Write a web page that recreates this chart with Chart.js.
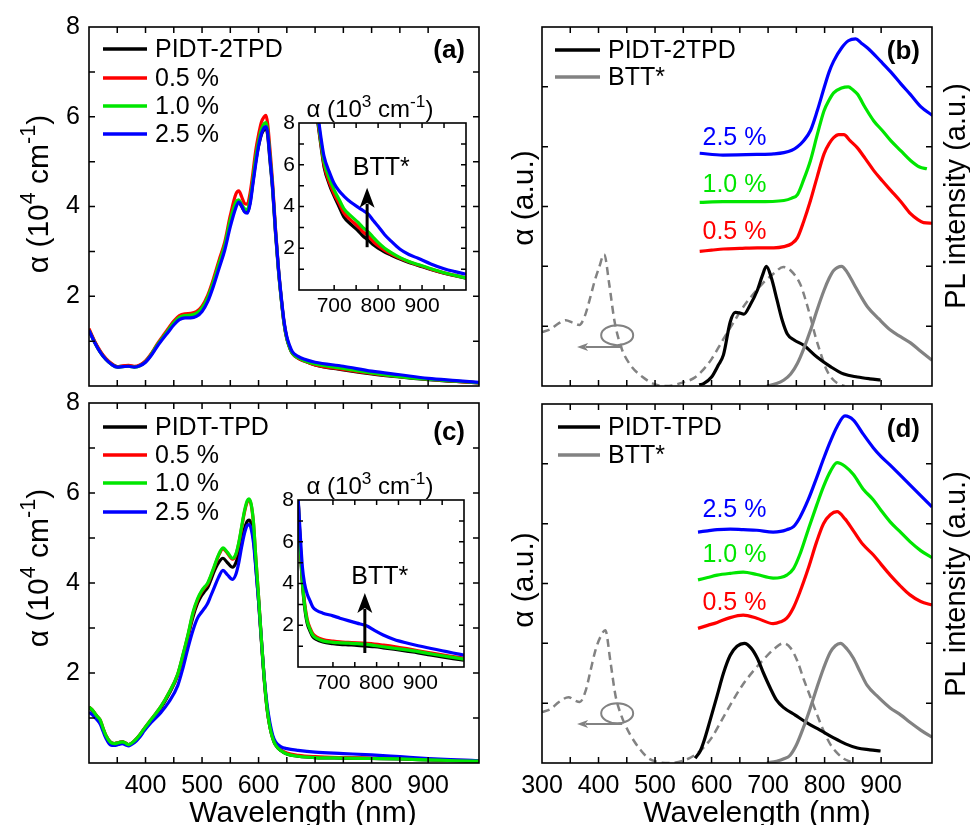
<!DOCTYPE html>
<html>
<head>
<meta charset="utf-8">
<script src="https://cdn.jsdelivr.net/npm/chart.js@4"></script>
<style>
  body { margin: 0; background: #fff; }
  #wrap { position: relative; width: 970px; height: 825px; overflow: hidden; }
  canvas { position: absolute; }
</style>
</head>
<body>
<div id="wrap">
  <canvas id="pa" width="490" height="395" style="left:0;top:0"></canvas>
  <canvas id="pb" width="480" height="395" style="left:490px;top:0"></canvas>
  <canvas id="pc" width="490" height="450" style="left:0;top:375px"></canvas>
  <canvas id="pd" width="480" height="450" style="left:490px;top:375px"></canvas>
  <canvas id="ia" width="210" height="235" style="left:262px;top:88px"></canvas>
  <canvas id="ic" width="210" height="235" style="left:261px;top:465px"></canvas>
</div>
<script>
// ---- data ----
// (a) absorption PIDT-2TPD blends, 10^4 cm^-1
const aWl = [300,310,320,330,340,350,360,370,380,390,400,410,420,430,440,450,460,470,480,490,500,510,520,530,540,550,560,565,570,575,580,585,590,595,600,605,610,613,616,620,625,630,635,640,645,650,655,660,670,680,700,750,800,850,900,950,990];
const aBlack = [1.25,0.98,0.76,0.60,0.49,0.43,0.44,0.45,0.43,0.46,0.55,0.70,0.90,1.07,1.24,1.40,1.51,1.55,1.56,1.60,1.72,1.95,2.30,2.70,3.10,3.65,4.05,4.10,4.00,3.90,3.88,4.10,4.55,5.00,5.35,5.60,5.72,5.75,5.60,5.05,4.35,3.40,2.60,1.95,1.40,1.05,0.85,0.72,0.62,0.56,0.47,0.36,0.27,0.20,0.14,0.10,0.07];
const aRed = [1.28,1.00,0.78,0.61,0.50,0.43,0.45,0.46,0.44,0.47,0.56,0.72,0.92,1.10,1.28,1.45,1.57,1.61,1.62,1.66,1.78,2.02,2.38,2.80,3.20,3.80,4.28,4.35,4.22,4.07,4.05,4.30,4.75,5.25,5.60,5.88,6.00,6.03,5.85,5.30,4.50,3.50,2.65,1.98,1.42,1.07,0.86,0.73,0.62,0.56,0.47,0.37,0.28,0.21,0.15,0.10,0.07];
const aGreen = [1.24,0.97,0.75,0.59,0.48,0.42,0.43,0.44,0.42,0.45,0.54,0.70,0.90,1.07,1.24,1.41,1.53,1.57,1.58,1.62,1.74,1.97,2.32,2.73,3.13,3.70,4.10,4.15,4.05,3.95,3.93,4.15,4.60,5.10,5.45,5.72,5.85,5.87,5.70,5.15,4.40,3.45,2.62,1.96,1.41,1.06,0.86,0.73,0.63,0.57,0.49,0.39,0.29,0.21,0.15,0.11,0.07];
const aBlue = [1.24,0.97,0.75,0.59,0.48,0.42,0.43,0.44,0.42,0.45,0.53,0.68,0.87,1.04,1.20,1.36,1.48,1.52,1.52,1.55,1.66,1.88,2.22,2.62,3.02,3.55,3.98,4.10,4.02,3.88,3.85,4.05,4.50,4.95,5.35,5.62,5.76,5.78,5.65,5.10,4.40,3.45,2.65,2.00,1.45,1.10,0.90,0.76,0.66,0.60,0.53,0.44,0.33,0.25,0.17,0.12,0.08];

// (a) inset, 10^3 cm^-1
const iaWl = [655,663,670,677,690,700,711,722,738,754,765,777,790,800,815,829,850,870,891,920,950,975,1000];
const iaBlack = [9.4,8.0,6.9,5.9,5.0,4.5,4.0,3.5,3.15,2.85,2.6,2.4,2.15,2.0,1.82,1.68,1.48,1.32,1.18,0.98,0.8,0.68,0.56];
const iaRed = [9.5,8.1,7.0,6.0,5.1,4.6,4.15,3.7,3.35,3.05,2.8,2.6,2.3,2.12,1.9,1.73,1.52,1.35,1.2,1.0,0.82,0.7,0.58];
const iaGreen = [9.6,8.2,7.1,6.15,5.3,4.8,4.35,3.9,3.55,3.25,3.0,2.8,2.5,2.28,2.0,1.8,1.55,1.37,1.22,1.02,0.83,0.7,0.58];
const iaBlue = [9.8,8.4,7.3,6.4,5.6,5.1,4.75,4.5,4.2,3.97,3.82,3.65,3.3,3.05,2.65,2.35,1.95,1.7,1.52,1.25,1.02,0.88,0.76];

// (c) absorption PIDT-TPD blends
const cWl = [300,305,310,315,320,325,330,338,345,352,359,365,370,380,390,398,410,427,441,457,466,475,484,492,499,505,510,515,521,529,537,545,554,560,565,570,575,580,583,587,591,595,600,605,610,615,620,625,630,640,650,670,700,750,800,850,900,950,990];
const cBlack = [1.24,1.18,1.10,1.02,0.92,0.75,0.60,0.46,0.43,0.45,0.47,0.44,0.41,0.48,0.62,0.76,0.95,1.22,1.52,1.95,2.35,2.80,3.25,3.55,3.72,3.82,3.90,4.05,4.25,4.45,4.55,4.45,4.35,4.45,4.65,4.95,5.20,5.37,5.40,5.32,5.00,4.40,3.60,2.70,1.85,1.20,0.80,0.55,0.40,0.27,0.20,0.15,0.12,0.11,0.10,0.09,0.07,0.05,0.04];
const cRed = [1.24,1.19,1.11,1.03,0.95,0.77,0.61,0.46,0.43,0.45,0.47,0.44,0.41,0.49,0.63,0.77,0.97,1.25,1.55,1.97,2.38,2.83,3.32,3.62,3.80,3.90,3.98,4.13,4.33,4.60,4.76,4.66,4.53,4.63,4.88,5.22,5.57,5.80,5.85,5.73,5.33,4.58,3.70,2.75,1.88,1.23,0.82,0.57,0.42,0.29,0.22,0.17,0.14,0.12,0.11,0.10,0.08,0.06,0.05];
const cGreen = [1.24,1.19,1.11,1.03,0.95,0.77,0.61,0.46,0.43,0.45,0.47,0.44,0.41,0.49,0.63,0.77,0.97,1.25,1.55,1.98,2.40,2.85,3.35,3.65,3.82,3.92,4.00,4.15,4.35,4.62,4.78,4.68,4.55,4.65,4.90,5.25,5.60,5.83,5.87,5.75,5.35,4.60,3.70,2.75,1.88,1.22,0.80,0.55,0.40,0.27,0.20,0.15,0.12,0.11,0.10,0.09,0.07,0.05,0.04];
const cBlue = [1.13,1.08,1.02,0.95,0.86,0.70,0.55,0.40,0.39,0.41,0.43,0.40,0.38,0.45,0.58,0.72,0.90,1.12,1.35,1.72,2.10,2.55,2.95,3.22,3.35,3.45,3.55,3.70,3.88,4.12,4.28,4.18,4.08,4.20,4.45,4.80,5.10,5.28,5.30,5.20,4.90,4.35,3.60,2.75,1.90,1.30,0.90,0.62,0.47,0.36,0.32,0.28,0.24,0.21,0.18,0.14,0.10,0.07,0.05];

// (c) inset
const icWl = [620,625,630,635,641,648,654,662,677,700,716,735,755,778,795,815,840,869,895,922,950,975,1000];
const icBlack = [8.2,5.8,4.0,2.9,2.1,1.7,1.45,1.32,1.2,1.12,1.08,1.06,1.04,1.0,0.97,0.92,0.85,0.76,0.68,0.58,0.48,0.4,0.33];
const icRed = [8.2,6.0,4.2,3.1,2.3,1.85,1.6,1.45,1.32,1.24,1.2,1.18,1.16,1.13,1.1,1.05,0.98,0.88,0.78,0.68,0.58,0.5,0.42];
const icGreen = [8.2,5.9,4.1,3.0,2.2,1.78,1.52,1.38,1.25,1.18,1.16,1.14,1.12,1.08,1.03,0.97,0.9,0.82,0.74,0.64,0.54,0.46,0.38];
const icBlue = [8.2,6.4,4.8,4.0,3.5,3.15,2.87,2.72,2.58,2.45,2.34,2.22,2.1,1.96,1.75,1.53,1.32,1.15,1.02,0.9,0.78,0.67,0.57];

// (b) normalised spectra, a.u.
const bDashWl = [300,315,330,342,354,366,375,384,393,401,410,419,428,440,455,478,502,520,550,570,585,600,620,640,656,675,691,710,727,740,757,766,775,784,793,802,811,822,835];
const bDash = [0.90,0.95,1.05,1.10,1.06,1.02,1.15,1.43,1.75,1.98,2.20,1.70,1.10,0.65,0.37,0.15,0.02,0.0,0.06,0.14,0.27,0.45,0.77,1.08,1.32,1.55,1.72,1.88,1.99,1.93,1.70,1.45,1.15,0.82,0.55,0.30,0.15,0.05,0.0];
const bBlackWl = [578,586,600,612,621,633,642,650,657,668,681,690,697,706,716,725,734,746,763,787,811,834,858,880,899];
const bBlack = [0.02,0.04,0.15,0.35,0.52,1.07,1.23,1.22,1.20,1.35,1.60,1.85,2.00,1.80,1.43,1.10,0.87,0.77,0.68,0.48,0.32,0.20,0.15,0.12,0.10];
const bGreyWl = [698,715,728,740,752,763,775,787,799,808,816,830,840,852,864,876,896,917,935,952,970,990];
const bGrey = [0.0,0.04,0.10,0.20,0.38,0.62,0.93,1.28,1.60,1.80,1.93,2.00,1.90,1.70,1.50,1.32,1.12,0.93,0.82,0.72,0.58,0.43];
const bRedWl = [579,600,621,650,681,710,728,742,752,763,775,787,799,808,816,825,834,845,858,872,887,902,917,935,952,965,975,990];
const bRed = [2.25,2.27,2.29,2.30,2.31,2.31,2.33,2.38,2.48,2.75,3.10,3.50,3.88,4.05,4.15,4.20,4.20,4.10,3.98,3.80,3.60,3.43,3.27,3.08,2.88,2.78,2.73,2.72];
const bGreenWl = [579,620,680,728,742,752,763,775,787,799,808,816,830,842,850,858,872,887,902,917,935,952,968,981];
const bGreen = [3.07,3.08,3.08,3.10,3.14,3.20,3.45,3.77,4.20,4.60,4.78,4.90,4.98,5.00,4.95,4.88,4.65,4.43,4.27,4.10,3.93,3.77,3.66,3.63];
const bBlueWl = [579,620,680,710,728,742,752,763,775,787,799,808,816,830,842,855,865,876,900,917,935,952,970,991];
const bBlue = [3.89,3.86,3.87,3.88,3.90,3.94,4.00,4.10,4.27,4.60,4.98,5.25,5.43,5.65,5.77,5.80,5.73,5.65,5.42,5.25,5.05,4.87,4.67,4.52];

// (d)
const dDashWl = [300,315,330,347,357,367,377,386,395,403,412,421,430,440,450,462,474,488,503,525,550,570,585,600,620,640,656,675,691,710,727,740,752,763,775,787,799,811,822,834,846];
const dDash = [0.85,0.90,1.02,1.10,1.05,1.02,1.20,1.55,1.90,2.10,2.22,1.70,1.13,0.80,0.58,0.38,0.22,0.08,0.02,0.0,0.04,0.13,0.25,0.42,0.75,1.08,1.32,1.55,1.72,1.90,2.00,1.92,1.70,1.40,1.10,0.80,0.52,0.30,0.17,0.07,0.02];
const dBlackWl = [571,580,586,597,610,621,633,645,658,670,681,692,704,715,727,748,769,792,816,837,858,880,899];
const dBlack = [0.08,0.20,0.35,0.70,1.13,1.50,1.80,1.95,2.00,1.92,1.75,1.50,1.25,1.05,0.93,0.80,0.67,0.55,0.42,0.32,0.25,0.22,0.20];
const dGreyWl = [698,715,728,739,750,762,774,786,798,810,819,828,840,851,863,875,895,916,935,951,970,990];
const dGrey = [0.0,0.03,0.07,0.13,0.30,0.58,0.90,1.25,1.58,1.85,1.96,2.00,1.90,1.75,1.52,1.30,1.10,0.92,0.80,0.68,0.55,0.43];
const dColWl = [576,593,610,633,656,680,709,722,733,745,756,771,786,798,810,822,836,851,868,886,900,916,933,951,970,990];
const dRed = [2.25,2.30,2.35,2.43,2.47,2.42,2.33,2.36,2.42,2.60,2.85,3.25,3.70,4.00,4.15,4.20,4.08,3.88,3.65,3.48,3.32,3.14,2.97,2.81,2.70,2.64];
const dGreen = [3.06,3.10,3.14,3.17,3.19,3.15,3.09,3.10,3.14,3.25,3.48,3.90,4.31,4.62,4.87,5.02,4.96,4.82,4.58,4.40,4.22,4.03,3.87,3.70,3.55,3.43];
const dBlue = [3.86,3.88,3.90,3.91,3.90,3.89,3.86,3.87,3.90,3.95,4.10,4.40,4.77,5.08,5.37,5.62,5.80,5.73,5.50,5.27,5.12,4.98,4.82,4.65,4.47,4.28];

// ---- style ----
const FONT = "'Liberation Sans', Arial, sans-serif";
const RED = '#ff0000', GREEN = '#00e600', BLUE = '#0000ff', BLACK = '#000000', GREY = '#828282';
const ALPHA4 = [['α (10'], ['4', 1], [' cm'], ['-1', 1], [')']];
const ALPHA3 = [['α (10'], ['3', 1], [' cm'], ['-1', 1], [')']];

function pts(xs, ys) { return xs.map((x, i) => ({ x: x, y: ys[i] })); }

function line(label, xs, ys, color, order, dash) {
  return {
    label: label, data: pts(xs, ys), borderColor: color, borderWidth: dash ? 2.5 : 3.2,
    borderDash: dash || [], pointRadius: 0, fill: false, tension: 0.4,
    cubicInterpolationMode: 'monotone', order: order
  };
}

// text with raised small parts (superscripts), centred on x,y
function rich(ctx, parts, x, y, size, rot) {
  ctx.save();
  ctx.translate(x, y);
  ctx.rotate((rot || 0) * Math.PI / 180);
  ctx.fillStyle = '#000';
  ctx.textAlign = 'left';
  ctx.textBaseline = 'alphabetic';
  const fontOf = p => (p[1] ? size * 0.72 : size) + 'px ' + FONT;
  const widths = parts.map(p => { ctx.font = fontOf(p); return ctx.measureText(p[0]).width; });
  let cx = -widths.reduce((s, w) => s + w, 0) / 2;
  parts.forEach((p, i) => {
    ctx.font = fontOf(p);
    ctx.fillText(p[0], cx, size * 0.36 - (p[1] ? size * 0.42 : 0));
    cx += widths[i];
  });
  ctx.restore();
}

function arrow(ctx, x1, y1, x2, y2, color, w, hl, hw) {
  const ang = Math.atan2(y2 - y1, x2 - x1);
  const c = Math.cos(ang), s = Math.sin(ang);
  ctx.strokeStyle = color; ctx.fillStyle = color; ctx.lineWidth = w;
  ctx.beginPath();
  ctx.moveTo(x1, y1);
  ctx.lineTo(x2 - c * hl * 0.8, y2 - s * hl * 0.8);
  ctx.stroke();
  ctx.beginPath();
  ctx.moveTo(x2, y2);
  ctx.lineTo(x2 - c * hl - s * hw / 2, y2 - s * hl + c * hw / 2);
  ctx.lineTo(x2 - c * hl * 0.75, y2 - s * hl * 0.75);
  ctx.lineTo(x2 - c * hl + s * hw / 2, y2 - s * hl - c * hw / 2);
  ctx.closePath();
  ctx.fill();
}

// frame, inward ticks, legend and annotations
const extras = {
  id: 'extras',
  afterDraw(chart, args, o) {
    const ctx = chart.ctx, a = chart.chartArea, sx = chart.scales.x, sy = chart.scales.y;
    const X = v => sx.getPixelForValue(v), Y = v => sy.getPixelForValue(v);
    ctx.save();
    ctx.strokeStyle = '#000';
    ctx.lineWidth = 1.5;
    const L = o.tick || 6;
    ctx.beginPath();
    sx.ticks.forEach(t => {
      if (t.value <= sx.min || t.value >= sx.max) return;
      const p = X(t.value);
      ctx.moveTo(p, a.bottom); ctx.lineTo(p, a.bottom - L);
      ctx.moveTo(p, a.top); ctx.lineTo(p, a.top + L);
    });
    sy.ticks.forEach(t => {
      if (t.value <= sy.min || t.value >= sy.max) return;
      const p = Y(t.value);
      ctx.moveTo(a.left, p); ctx.lineTo(a.left + L, p);
      ctx.moveTo(a.right, p); ctx.lineTo(a.right - L, p);
    });
    ctx.stroke();
    ctx.lineWidth = 1.6;
    ctx.strokeRect(a.left, a.top, a.right - a.left, a.bottom - a.top);

    if (o.legend) {
      const lg = o.legend;
      lg.items.forEach(it => {
        ctx.strokeStyle = it[1]; ctx.lineWidth = 3.5;
        ctx.beginPath(); ctx.moveTo(lg.x1, it[2]); ctx.lineTo(lg.x2, it[2]); ctx.stroke();
        ctx.fillStyle = '#000'; ctx.font = '25px ' + FONT;
        ctx.textAlign = 'left'; ctx.textBaseline = 'middle';
        ctx.fillText(it[0], lg.tx, it[2] + 1);
      });
    }
    if (o.tag) {
      ctx.fillStyle = '#000'; ctx.font = 'bold 26px ' + FONT;
      ctx.textAlign = 'right'; ctx.textBaseline = 'middle';
      ctx.fillText(o.tag[0], o.tag[1], o.tag[2]);
    }
    (o.texts || []).forEach(t => {
      ctx.fillStyle = t.color; ctx.font = (t.size || 25) + 'px ' + FONT;
      ctx.textAlign = t.align || 'left'; ctx.textBaseline = 'middle';
      ctx.fillText(t.text, X(t.x), Y(t.y));
    });
    if (o.ellipse) {
      const e = o.ellipse;
      ctx.strokeStyle = GREY; ctx.lineWidth = 2;
      ctx.beginPath(); ctx.ellipse(X(e[0]), Y(e[1]), e[2], e[3], 0, 0, Math.PI * 2); ctx.stroke();
    }
    (o.arrows || []).forEach(r => arrow(ctx, X(r.x1), Y(r.y1), X(r.x2), Y(r.y2), r.color, r.w, r.hl, r.hw));
    (o.titles || []).forEach(t => rich(ctx, t.parts, t.x, t.y, t.size || 29, t.rot || 0));
    ctx.restore();
  }
};

function panel(id, cfg) {
  return new Chart(document.getElementById(id), {
    type: 'line',
    data: { datasets: cfg.datasets },
    options: {
      responsive: false, animation: false, devicePixelRatio: 1,
      layout: { padding: cfg.pad },
      plugins: { legend: { display: false }, tooltip: { enabled: false }, extras: cfg.extras },
      scales: {
        x: {
          type: 'linear', min: cfg.xr[0], max: cfg.xr[1],
          grid: { display: false, drawTicks: false }, border: { display: false },
          afterFit: s => { s.height = cfg.xh; s.paddingLeft = 0; s.paddingRight = 0; },
          ticks: {
            display: !!cfg.xLab, stepSize: 50, autoSkip: false, maxRotation: 0, padding: cfg.xPad || 8,
            color: '#000', font: { family: FONT, size: cfg.fs || 25 },
            callback: v => cfg.xLab ? cfg.xLab(v) : ''
          }
        },
        y: {
          type: 'linear', min: cfg.yr[0], max: cfg.yr[1],
          grid: { display: false, drawTicks: false }, border: { display: false },
          afterFit: s => { s.width = cfg.yw; s.paddingTop = 0; s.paddingBottom = 0; },
          ticks: {
            display: !!cfg.yLab, stepSize: 1, autoSkip: false, padding: cfg.yPad || 9,
            color: '#000', font: { family: FONT, size: cfg.fs || 25 },
            callback: v => cfg.yLab ? cfg.yLab(v) : ''
          }
        }
      }
    },
    plugins: [extras]
  });
}

const evenLab = v => (v > 0 && v % 2 === 0) ? String(v) : '';
const wlLab = lo => v => (v % 100 === 0 && v >= lo && v <= 900) ? String(v) : '';

// (a)
panel('pa', {
  datasets: [
    line('PIDT-2TPD', aWl, aBlack, BLACK, 3),
    line('0.5 %', aWl, aRed, RED, 2),
    line('1.0 %', aWl, aGreen, GREEN, 1),
    line('2.5 %', aWl, aBlue, BLUE, 0)
  ],
  xr: [300, 990], yr: [0, 8], pad: { top: 27, right: 11, bottom: 9, left: 0 }, xh: 0, yw: 89,
  yLab: evenLab,
  extras: {
    legend: { x1: 103, x2: 147, tx: 155, items: [['PIDT-2TPD', BLACK, 49], ['0.5 %', RED, 78], ['1.0 %', GREEN, 106], ['2.5 %', BLUE, 134]] },
    tag: ['(a)', 465, 51],
    titles: [{ parts: ALPHA4, x: 37, y: 194, rot: -90, size: 30 }]
  }
});

// (b)
panel('pb', {
  datasets: [
    line('BTT* abs', bDashWl, bDash, GREY, 5, [8, 5]),
    line('PIDT-2TPD', bBlackWl, bBlack, BLACK, 4),
    line('BTT*', bGreyWl, bGrey, GREY, 3),
    line('0.5 %', bRedWl, bRed, RED, 2),
    line('1.0 %', bGreenWl, bGreen, GREEN, 1),
    line('2.5 %', bBlueWl, bBlue, BLUE, 0)
  ],
  xr: [300, 990], yr: [0, 6], pad: { top: 27, right: 38, bottom: 9, left: 0 }, xh: 0, yw: 52,
  extras: {
    legend: { x1: 65, x2: 110, tx: 118, items: [['PIDT-2TPD', BLACK, 50], ['BTT*', GREY, 77]] },
    tag: ['(b)', 430, 52],
    texts: [
      { text: '2.5 %', color: BLUE, x: 584, y: 4.15 },
      { text: '1.0 %', color: GREEN, x: 584, y: 3.35 },
      { text: '0.5 %', color: RED, x: 584, y: 2.57 }
    ],
    ellipse: [433, 0.85, 16, 10],
    arrows: [{ x1: 442, y1: 0.65, x2: 362, y2: 0.65, color: GREY, w: 2, hl: 11, hw: 8 }],
    titles: [
      { parts: [['α (a.u.)']], x: 32, y: 198, rot: -90, size: 30 },
      { parts: [['PL intensity (a.u.)']], x: 465, y: 196, rot: -90 }
    ]
  }
});

// (c)  canvas top 375
panel('pc', {
  datasets: [
    line('PIDT-TPD', cWl, cBlack, BLACK, 3),
    line('0.5 %', cWl, cRed, RED, 2),
    line('1.0 %', cWl, cGreen, GREEN, 0),
    line('2.5 %', cWl, cBlue, BLUE, 1)
  ],
  xr: [300, 990], yr: [0, 8], pad: { top: 28, right: 11, bottom: 0, left: 0 }, xh: 62, yw: 89,
  xLab: wlLab(400), yLab: evenLab,
  extras: {
    legend: { x1: 103, x2: 147, tx: 155, items: [['PIDT-TPD', BLACK, 52], ['0.5 %', RED, 80], ['1.0 %', GREEN, 108], ['2.5 %', BLUE, 137]] },
    tag: ['(c)', 465, 58],
    titles: [
      { parts: ALPHA4, x: 37, y: 193, rot: -90, size: 30 },
      { parts: [['Wavelength (nm)']], x: 303, y: 436, rot: 0, size: 30 }
    ]
  }
});

// (d)  canvas top 375
panel('pd', {
  datasets: [
    line('BTT* abs', dDashWl, dDash, GREY, 5, [8, 5]),
    line('PIDT-TPD', dBlackWl, dBlack, BLACK, 4),
    line('BTT*', dGreyWl, dGrey, GREY, 3),
    line('0.5 %', dColWl, dRed, RED, 2),
    line('1.0 %', dColWl, dGreen, GREEN, 1),
    line('2.5 %', dColWl, dBlue, BLUE, 0)
  ],
  xr: [300, 990], yr: [0, 6], pad: { top: 29, right: 38, bottom: 0, left: 0 }, xh: 62, yw: 52,
  xLab: wlLab(300),
  extras: {
    legend: { x1: 68, x2: 110, tx: 118, items: [['PIDT-TPD', BLACK, 52], ['BTT*', GREY, 80]] },
    tag: ['(d)', 430, 55],
    texts: [
      { text: '2.5 %', color: BLUE, x: 584, y: 4.22 },
      { text: '1.0 %', color: GREEN, x: 584, y: 3.47 },
      { text: '0.5 %', color: RED, x: 584, y: 2.68 }
    ],
    ellipse: [433, 0.83, 16, 10],
    arrows: [{ x1: 442, y1: 0.65, x2: 362, y2: 0.65, color: GREY, w: 2, hl: 11, hw: 8 }],
    titles: [
      { parts: [['α (a.u.)']], x: 32, y: 205, rot: -90, size: 30 },
      { parts: [['PL intensity (a.u.)']], x: 465, y: 209, rot: -90 },
      { parts: [['Wavelength (nm)']], x: 267, y: 436, rot: 0, size: 30 }
    ]
  }
});

// insets
const insetLab = v => (v % 100 === 0 && v >= 700 && v <= 900) ? String(v) : '';
panel('ia', {
  datasets: [
    line('PIDT-2TPD', iaWl, iaBlack, BLACK, 3),
    line('0.5 %', iaWl, iaRed, RED, 2),
    line('1.0 %', iaWl, iaGreen, GREEN, 1),
    line('2.5 %', iaWl, iaBlue, BLUE, 0)
  ],
  xr: [620, 1000], yr: [0, 8], pad: { top: 35, right: 6, bottom: 0, left: 0 }, xh: 33, yw: 37,
  fs: 21, xPad: 4, yPad: 4, xLab: insetLab, yLab: evenLab,
  extras: {
    tick: 5,
    texts: [{ text: 'BTT*', color: BLACK, x: 807, y: 5.84, align: 'center' }],
    arrows: [{ x1: 775, y1: 2.05, x2: 775, y2: 4.9, color: BLACK, w: 3, hl: 20, hw: 15 }],
    titles: [{ parts: ALPHA3, x: 108, y: 20, size: 24 }]
  }
});
panel('ic', {
  datasets: [
    line('PIDT-TPD', icWl, icBlack, BLACK, 3),
    line('0.5 %', icWl, icRed, RED, 2),
    line('1.0 %', icWl, icGreen, GREEN, 1),
    line('2.5 %', icWl, icBlue, BLUE, 0)
  ],
  xr: [620, 1000], yr: [0, 8], pad: { top: 35, right: 7, bottom: 0, left: 0 }, xh: 33, yw: 37,
  fs: 21, xPad: 4, yPad: 4, xLab: insetLab, yLab: evenLab,
  extras: {
    tick: 5,
    texts: [{ text: 'BTT*', color: BLACK, x: 807, y: 4.3, align: 'center' }],
    arrows: [{ x1: 773, y1: 0.67, x2: 773, y2: 3.55, color: BLACK, w: 3, hl: 20, hw: 15 }],
    titles: [{ parts: ALPHA3, x: 109, y: 20, size: 24 }]
  }
});
</script>
</body>
</html>
